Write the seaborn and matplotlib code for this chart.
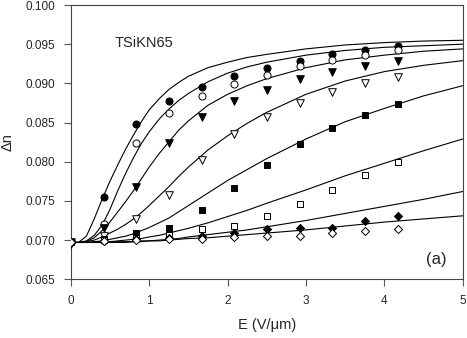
import matplotlib
matplotlib.use("Agg")
import matplotlib.pyplot as plt
import seaborn as sns

# ---- data ----
E_pts = [0.0, 0.42, 0.83, 1.25, 1.67, 2.08, 2.50, 2.92, 3.33, 3.75, 4.17]

filled_circle = [0.0697, 0.0755, 0.0848, 0.0877, 0.0896, 0.0909, 0.0920, 0.0929, 0.0937, 0.0943, 0.0948]
open_circle   = [0.0697, 0.0721, 0.0824, 0.0862, 0.0884, 0.0899, 0.0911, 0.0922, 0.0930, 0.0936, 0.0942]
filled_tri    = [0.0695, 0.0715, 0.0768, 0.0824, 0.0857, 0.0877, 0.0892, 0.0905, 0.0915, 0.0922, 0.0929]
open_tri      = [0.0697, 0.0705, 0.0727, 0.0758, 0.0802, 0.0835, 0.0857, 0.0875, 0.0889, 0.0900, 0.0908]
filled_square = [0.0697, 0.0702, 0.0709, 0.0715, 0.0739, 0.0766, 0.0796, 0.0822, 0.0843, 0.0860, 0.0874]
open_square   = [0.0697, 0.0700, 0.0703, 0.0707, 0.0714, 0.0718, 0.0731, 0.0746, 0.0764, 0.0783, 0.0800]
filled_diam   = [0.0697, 0.0699, 0.0701, 0.0703, 0.0705, 0.0709, 0.0714, 0.0715, 0.0716, 0.0724, 0.0731]
open_diam     = [0.0698, 0.0699, 0.0700, 0.0701, 0.0702, 0.0704, 0.0705, 0.0705, 0.0709, 0.0712, 0.0714]

# fitted curves
E_fit = [0.0, 0.1, 0.2, 0.3, 0.4, 0.5, 0.6, 0.7, 0.8, 0.9, 1.0,
         1.125, 1.25, 1.375, 1.5, 1.75, 2.0, 2.25, 2.5, 3.0, 3.5, 4.0, 4.5, 5.0]
fit1 = [0.0697, 0.0697, 0.0705, 0.0727, 0.0752, 0.0775, 0.0796, 0.0816, 0.0834, 0.0851, 0.0866,
        0.0880, 0.0892, 0.0901, 0.0909, 0.0920, 0.0927, 0.0933, 0.0937, 0.0944, 0.0949, 0.0952, 0.0954, 0.0955]
fit2 = [0.0697, 0.0697, 0.0699, 0.0706, 0.0719, 0.0739, 0.0763, 0.0785, 0.0805, 0.0823, 0.0838,
        0.0854, 0.0867, 0.0878, 0.0887, 0.0902, 0.0913, 0.0921, 0.0927, 0.0936, 0.0942, 0.0946, 0.0948, 0.0950]
fit3 = [0.0697, 0.0697, 0.0698, 0.0703, 0.0712, 0.0723, 0.0736, 0.0749, 0.0763, 0.0778, 0.0793,
        0.0810, 0.0825, 0.0840, 0.0852, 0.0872, 0.0886, 0.0897, 0.0906, 0.0920, 0.0930, 0.0936, 0.0941, 0.0944]
fit4 = [0.0697, 0.0697, 0.0698, 0.0700, 0.0704, 0.0709, 0.0714, 0.0720, 0.0727, 0.0735, 0.0744,
        0.0756, 0.0768, 0.0781, 0.0793, 0.0815, 0.0833, 0.0849, 0.0863, 0.0886, 0.0903, 0.0915, 0.0923, 0.0929]
fit5 = [0.0697, 0.0697, 0.0697, 0.0698, 0.0699, 0.0701, 0.0703, 0.0705, 0.0708, 0.0712, 0.0716,
        0.0722, 0.0728, 0.0736, 0.0744, 0.0760, 0.0776, 0.0790, 0.0804, 0.0829, 0.0851, 0.0868, 0.0884, 0.0897]
fit6 = [0.0697, 0.0697, 0.0697, 0.0697, 0.0698, 0.0698, 0.0699, 0.0700, 0.0701, 0.0702, 0.0704,
        0.0706, 0.0709, 0.0712, 0.0715, 0.0722, 0.0730, 0.0738, 0.0747, 0.0764, 0.0782, 0.0798, 0.0814, 0.0829]
fit7 = [0.0697, 0.0697, 0.0697, 0.0697, 0.0697, 0.0697, 0.0698, 0.0698, 0.0698, 0.0699, 0.0699,
        0.0700, 0.0701, 0.0702, 0.0704, 0.0707, 0.0710, 0.0713, 0.0717, 0.0725, 0.0734, 0.0743, 0.0752, 0.0762]
fit8 = [0.0697, 0.0697, 0.0697, 0.0697, 0.0697, 0.0697, 0.0697, 0.0697, 0.0698, 0.0698, 0.0699,
        0.0699, 0.0700, 0.0701, 0.0702, 0.0703, 0.0705, 0.0707, 0.0709, 0.0713, 0.0718, 0.0723, 0.0727, 0.0731]

x_ticks = [0, 1, 2, 3, 4, 5]
y_ticks = [0.065, 0.070, 0.075, 0.080, 0.085, 0.090, 0.095, 0.100]

sns.set_style("ticks")
plt.rcParams["font.family"] = ["Liberation Sans", "DejaVu Sans"]

fig = plt.figure(figsize=(4.67, 3.38), dpi=100)
ax = fig.add_axes([0.1514, 0.1737, 0.8394, 0.8115])

fits = [fit1, fit2, fit3, fit4, fit5, fit6, fit7, fit8]
for f in fits:
    sns.lineplot(x=E_fit, y=f, ax=ax, color="black", linewidth=0.8, zorder=2,
                 solid_joinstyle="round")

series = [
    (filled_circle, "o", "black", 26),
    (open_circle, "o", "white", 26),
    (filled_tri, "v", "black", 30),
    (open_tri, "v", "white", 30),
    (filled_square, "s", "black", 20),
    (open_square, "s", "white", 20),
    (filled_diam, "D", "black", 17),
    (open_diam, "D", "white", 17),
]
for vals, m, fc, s in series:
    sns.scatterplot(x=E_pts, y=vals, ax=ax, marker=m, color=fc, edgecolor="black",
                    linewidth=0.7, s=s, zorder=3)

ax.set_xlim(0, 5)
ax.set_ylim(0.065, 0.100)
ax.set_xticks(x_ticks)
ax.set_xticklabels([str(t) for t in x_ticks])
ax.set_yticks(y_ticks)
ax.set_yticklabels([f"{t:.3f}" for t in y_ticks])
ax.tick_params(axis="both", direction="out", length=5, width=0.8, color="#555555",
               labelsize=8.5, pad=6)

for sp in ax.spines.values():
    sp.set_color("#444444")
    sp.set_linewidth(0.8)

ax.set_xlabel("E (V/μm)", fontsize=10.5, labelpad=8)
ax.set_ylabel("Δn", fontsize=10.5, labelpad=8)

ax.text(0.56, 0.0952, "TSiKN65", fontsize=10.5, ha="left", va="center")
ax.text(4.80, 0.0675, "(a)", fontsize=12, ha="right", va="center")

fig.savefig("out.png", dpi=100)
